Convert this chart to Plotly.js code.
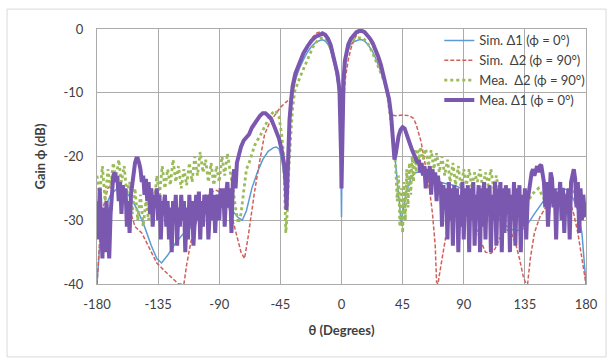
<!DOCTYPE html>
<html>
<head>
<meta charset="utf-8">
<script src="https://cdn.plot.ly/plotly-3.0.1.min.js"></script>
<style>html,body{margin:0;padding:0;background:#fff;}#chart{width:613px;height:364px;}</style>
</head>
<body>
<div id="chart"></div>
<script>
// ---- Data ----
var seriesNames = ["Sim. \u03941 (\u03d5 = 0\u00b0)", "Sim.  \u03942 (\u03d5 = 90\u00b0)", "Mea.  \u03942 (\u03d5 = 90\u00b0)", "Mea. \u03941 (\u03d5 = 0\u00b0)"];
var xTickVals = [-180, -135, -90, -45, 0, 45, 90, 135, 180];
var xTickText = ["-180", "-135", "-90", "-45", "0", "45", "90", "135", "180"];
var yTickVals = [-40, -30, -20, -10, 0];
var yTickText = ["-40", "-30", "-20", "-10", "0"];

// Sim. Δ1 (phi = 0)
var simD1Theta = [-180,-178,-176,-173,-170,-165,-160,-155,-150,-145,-140,-136,-132.5,-128,-122,-116,-110,-104,-98,-92,-88,-84,-80,-76,-73,-70,-66,-62,-58,-54,-50,-48,-46,-44,-42,-41,-40,-39,-38.3,-37,-36,-34,-31,-28,-25,-22,-19,-16,-14,-12,-10,-8,-6.5,-5,-3,-1.5,-0.8,-0.3,0,0.3,0.8,1.5,2.5,3.5,5,7,9,11,13,15,17,19,21,23,25,27,29,31,33,35,36.5,38,40,42,44,46,48,51,54,57,62,67,72,78,84,90,96,102,108,114,120,126,130,134,138,142,146,150,155,160,164,168,171,174,177,179,180];
var simD1Gain  = [-40,-34,-30,-27.5,-26,-25,-25.3,-26.5,-28.5,-31,-34,-36,-36.7,-35.5,-33.5,-32,-31,-29.5,-28,-27.3,-27.2,-27.8,-28.6,-29.6,-30,-28.5,-25,-22.5,-20.5,-19.2,-18.6,-18.5,-18.8,-20.5,-23.5,-27.6,-26,-20,-15,-12,-10,-8,-6.2,-4.8,-3.6,-2.7,-2.1,-1.8,-1.7,-1.9,-2.4,-3.3,-4.5,-5.8,-8,-11,-15,-22,-29.5,-22,-14,-9,-6,-4.5,-3.2,-2.4,-2,-1.8,-1.7,-1.7,-1.9,-2.3,-2.9,-3.6,-4.5,-5.5,-6.7,-8,-9.6,-11.6,-13.8,-17,-21.5,-26,-30.4,-27.5,-25.3,-23.5,-22.6,-22.4,-22.8,-23.5,-24,-24.3,-24.6,-25.2,-26,-27,-28.2,-29.5,-30.7,-31.5,-31.6,-31.3,-30.3,-29,-27.8,-26.6,-25.5,-25,-25,-25.6,-26.8,-28.4,-32,-37,-40];

// Sim. Δ2 (phi = 90)
var simD2Theta = [-180,-178,-176,-172,-168,-164,-160,-156,-152,-147,-140,-136,-130,-125,-120,-116,-114,-111,-108,-104,-100,-96,-92,-88,-84,-80,-77,-74,-71.4,-69,-66,-64,-60,-56.7,-53,-49,-45,-41,-37,-35,-33,-30,-27,-24,-21,-18,-15,-13,-11,-9,-7,-5,-3,-2,-1,0,1,2,3,5,7,9,11,13,15,17,19,21,23,25,27,29,31,33,35,36,37,40,45,50,53,55,57,58.6,61,63,65,67,69,70,71,72.5,74,78,82,86,90,94,98,102,106,110,113,116,119,122,125,128,131,134,136,137,139,142,146,150,154,158,162,165,168,171,174,177,179,180];
var simD2Gain  = [-40,-33,-28.5,-25,-24,-24.5,-26,-28.3,-31,-32,-35,-36.7,-38,-39,-40,-40,-37,-33.5,-31,-28.5,-26.7,-25.6,-25.3,-25.8,-27.3,-30,-32.5,-35,-36,-33,-28.5,-25.5,-20.5,-16.6,-14.7,-13.5,-12.3,-11.5,-10.8,-9.2,-7,-5,-3.4,-2.2,-1.2,-0.6,-0.4,-0.6,-1,-1.8,-3,-4.8,-7.5,-10,-15,-25,-15,-10,-7.5,-4.8,-3,-1.8,-1,-0.5,-0.4,-0.6,-1.1,-1.8,-2.7,-3.7,-4.9,-6.2,-7.6,-9.2,-11,-12.5,-13.5,-13.6,-13.5,-13.6,-14,-15,-16.5,-17.7,-20.5,-23,-25.5,-29,-34,-39.7,-40,-38,-36,-31,-28.5,-27.5,-27.5,-28.5,-30.5,-33,-35,-35.2,-34.5,-33,-32,-31.5,-32,-33.5,-36,-39,-40,-40,-36,-32,-29.5,-28,-26.7,-26,-25.7,-26,-27,-29,-32,-36,-39,-40];

// Mea. Δ2 (phi = 90)
var meaD2Theta = [-180,-178,-176,-174,-172,-170,-168,-166,-164,-162,-160,-158,-156,-154,-152,-150,-148,-146,-144,-142,-140,-138,-136,-134,-132,-130,-128,-126,-124,-122,-120,-118,-116,-114,-112,-110,-108,-106,-104,-102,-100,-98,-96,-94,-92,-90,-88,-86,-84,-82,-80,-78,-76,-74,-72,-70,-68,-66,-64,-62,-60,-57,-54,-51,-48.5,-46,-44,-43,-42,-41,-40,-39,-38,-37,-36,-34.5,-31,-28,-26,-23,-21,-18,-15,-12,-10,-8,-6.5,-5,-3,-1.5,-0.8,-0.3,0,0.3,0.8,1.5,2.5,4,6,9,12,15.5,18,20.5,23,25.5,28,30.5,33,34.3,35.3,36.5,37.6,39,40,41,42,43,44,45,46,47,48,49,50,51,52,53,54,55,56,57,58,60,62,64,66,68,70,72,74,76,78,80,82,84,86,88,90,92,94,96,98,100,102,104,106,108,110,112,114,116,120,125,130,135,140,145,150,155,160,165,170,175,180];
var meaD2Gain  = [-23,-26,-21.5,-27,-22,-25,-21,-23.5,-20.5,-24,-21.5,-26,-24,-29,-25,-30,-26,-31,-27,-30,-25,-28,-23,-26,-21.5,-25,-22,-24.5,-20.5,-24,-21.5,-25,-22,-24.5,-21,-24,-20,-23,-19.3,-22.5,-20.5,-24,-21,-24.5,-21.5,-24,-20,-23,-19.5,-22,-25,-28,-30.5,-29,-25,-22,-21,-19.5,-18.3,-17.5,-16.8,-15.5,-14.2,-13.2,-12.8,-13.8,-16.6,-19,-24,-32,-29,-23,-18.5,-15.5,-12.5,-9.8,-7.8,-6.3,-5.2,-3.6,-2.8,-1.9,-1.4,-1.5,-2,-3,-4,-5.3,-7.5,-10,-14,-19,-23,-19,-13,-8.5,-5.5,-3.5,-2.3,-1.7,-1.4,-1.4,-1.9,-2.7,-3.8,-5,-6.4,-7.7,-9,-11,-12.7,-14.2,-15.8,-19,-22,-27,-23,-31,-25,-32,-24,-30,-22,-28,-21,-26,-20,-24,-19,-22.5,-18.8,-21,-18.5,-20.5,-18.8,-21.5,-19,-22,-19.5,-22.5,-20,-23,-20.5,-24,-21,-24.5,-21.5,-25,-22,-24.5,-22,-25,-22.5,-24,-22,-25,-22.5,-24.5,-22,-25,-23,-26,-27,-29,-27,-28,-26,-25,-27,-26,-28,-26,-25,-28,-27];

// Mea. Δ1 (phi = 0)
var meaD1Theta = [-180,-179,-178,-177,-176,-175,-174,-173,-172,-171,-170,-169,-168,-167,-166,-165,-164,-163,-162,-161,-160,-159,-158,-157,-156,-155,-154,-153,-152,-151,-150,-149,-148,-147,-146,-145,-144,-143,-142,-141,-140,-139,-138,-137,-136,-135,-134,-133,-132,-131,-130,-129,-128,-127,-126,-125,-124,-123,-122,-121,-120,-119,-118,-117,-116,-115,-114,-113,-112,-111,-110,-109,-108,-107,-106,-105,-104,-103,-102,-101,-100,-99,-98,-97,-96,-95,-94,-93,-92,-91,-90,-89,-88,-87,-86,-85,-84,-83,-82,-81,-80,-79,-78,-77,-76,-74,-72,-70,-68,-66,-64,-62,-60,-58,-56,-54,-52,-50,-48,-46,-44,-42,-41,-40.5,-40,-39.3,-38.3,-37,-36,-34,-31,-28,-25,-22,-19,-16,-14,-12,-10,-8,-6.5,-5,-3,-1.5,-0.8,-0.3,0,0.3,0.8,1.5,2.5,3.5,5,7,9,11,13,15,17,19,21,23,25,27,29,31,33,35,36.5,38,39,40,41,42,43.5,45,46.5,48,50,52,54,56,57,58,59,60,61,62,63,64,65,66,67,68,69,70,71,72,73,74,75,76,77,78,79,80,81,82,83,84,85,86,87,88,89,90,91,92,93,94,95,96,97,98,99,100,101,102,103,104,105,106,107,108,109,110,111,112,113,114,115,116,117,118,119,120,121,122,123,124,125,126,127,128,129,130,131,132,133,134,135,136,137,138,139,140,141,142,143,144,145,146,147,148,149,150,151,152,153,154,155,156,157,158,159,160,161,162,163,164,165,166,167,168,169,170,171,172,173,174,175,176,177,178,179,180];
var meaD1Gain  = [-27,-33,-25,-30,-36,-28,-35,-27,-32,-36,
  -29,-25,-23,-22.5,-24,-23,-27,-24,-29,-24.5,
  -27,-25,-31,-27,-32,-26,-24,-22,-21,-20.3,
  -20.3,-21,-22,-24,-23,-26,-23.5,-27,-24,-29,
  -25,-31,-26,-28,-25,-30,-26,-33,-27,-28,
  -26,-31,-27,-33,-28,-35,-27,-30,-26,-34,
  -28,-31,-26,-30,-27,-35,-28,-33,-26,-31,
  -27,-34,-28,-26,-30,-25.5,-33,-27,-31,-26,
  -29,-26,-33,-27,-25,-30,-26,-32,-27,-26,
  -30,-25,-28,-25,-31,-26,-24,-28,-25,-32,
  -24,-22,-25,-21,
  -20,-18.5,-17.5,-17,-16.5,-15.5,-14.8,-14.2,-13.6,-13.2,-13.2,-13.6,-14,-15,-16,-17.2,-19,-21.5,
  -25,-28.4,-25,-20,-14.3,-11,-9,-7,-5.4,-3.8,-2.7,-1.8,-1.2,-0.8,-0.7,-0.9,-1.5,-2.5,-3.8,-5,-7,-9.5,-14,-20,-25,
  -20,-13,-8,-5,-3.6,-2.4,-1.5,-0.9,-0.5,-0.3,-0.3,-0.5,-0.9,-1.5,-2.2,-3.2,-4.3,-5.6,-7.2,-8.8,-11,-13.5,-17,-20.5,
  -19.5,-18,-16.8,-15.8,-15.4,-15.6,-16.4,-17.8,-19,-20.2,-21,
  -20.5,-22.5,-21,-23,-21.5,-25,-22,-23.5,-21.5,-26,-22,-24,-22.5,-27,-23,-25,-24,-31,-24.5,-28,-25,-33,-24,-30,-25,-34,-24.5,-29,-25,-35,-26,-31,-24,-33,-25,-29,-24.5,-35,-25,-30,-24,-34,-26,-28,-24.5,-35,-25,-31,-24,-33,-25,-29,-24.5,-35,-26,-30,-24,-34,-25,-28,-24,-35,-25,-32,-24.5,-29,-25,-35,-26,-30,-24,-34,-25,-29,-24.5,-35,-26,-31,-25,-33,-27,-25,-24,-22.5,-22,-23,-22,-21.5,-22.5,-21.5,-21.3,-22.5,-24,-28,-24,-31,-25,-22.5,-23.5,-28,-25,-33,-25.5,-27,-24,-30,-25,-32,-26,-29,-25,-33,-24,-22.5,-22,-23.5,-28,-24,-32,-25,-30,-26,-29,-29.5];

// ---- Chart ----
var traces = [
  {x: simD1Theta, y: simD1Gain, name: seriesNames[0], type: 'scatter', mode: 'lines',
   line: {color: '#5B9BD5', width: 1.5}},
  {x: simD2Theta, y: simD2Gain, name: seriesNames[1], type: 'scatter', mode: 'lines',
   line: {color: '#D0605A', width: 1.5, dash: '4px,2px'}},
  {x: meaD2Theta, y: meaD2Gain, name: seriesNames[2], type: 'scatter', mode: 'lines',
   line: {color: '#9BBB59', width: 2.8, dash: 'dot'}},
  {x: meaD1Theta, y: meaD1Gain, name: seriesNames[3], type: 'scatter', mode: 'lines',
   line: {color: '#7B58B0', width: 4}}
];

var fontFam = 'Lato, "Open Sans", sans-serif';
var axisFont = {family: fontFam, size: 13, color: '#404040'};
var layout = {
  width: 613, height: 364,
  margin: {l: 97, r: 27, t: 29, b: 80},
  paper_bgcolor: '#ffffff', plot_bgcolor: '#ffffff',
  font: axisFont,
  showlegend: true,
  legend: {x: 0.70, y: 1.014, xanchor: 'left', yanchor: 'top', bgcolor: 'rgba(0,0,0,0)',
           font: {family: fontFam, size: 13, color: '#404040'},
           tracegroupgap: 0},
  xaxis: {range: [-180, 180], tickvals: xTickVals, ticktext: xTickText,
          showgrid: true, gridcolor: '#ABABAB', gridwidth: 1, zeroline: false,
          showline: true, linecolor: '#ABABAB', linewidth: 1, mirror: true,
          ticks: '', ticklabelstandoff: 8, tickfont: axisFont,
          title: {text: '<b>\u03b8 (Degrees)</b>', font: {family: fontFam, size: 13, color: '#404040'}, standoff: 15}},
  yaxis: {range: [-40, 0], tickvals: yTickVals, ticktext: yTickText,
          showgrid: true, gridcolor: '#ABABAB', gridwidth: 1, zeroline: false,
          showline: true, linecolor: '#ABABAB', linewidth: 1, mirror: true,
          ticks: '', ticklabelstandoff: 10, tickfont: axisFont,
          title: {text: '<b>Gain \u03d5 (dB)</b>', font: {family: fontFam, size: 13, color: '#404040'}, standoff: 14}},
  shapes: [{type: 'rect', xref: 'paper', yref: 'paper', x0: -0.184, x1: 1.041, y0: -0.286, y1: 1.078,
            line: {color: '#D9D9D9', width: 1}, fillcolor: 'rgba(0,0,0,0)', layer: 'below'}]
};

Plotly.newPlot('chart', traces, layout, {staticPlot: true, displayModeBar: false});
</script>
</body>
</html>
